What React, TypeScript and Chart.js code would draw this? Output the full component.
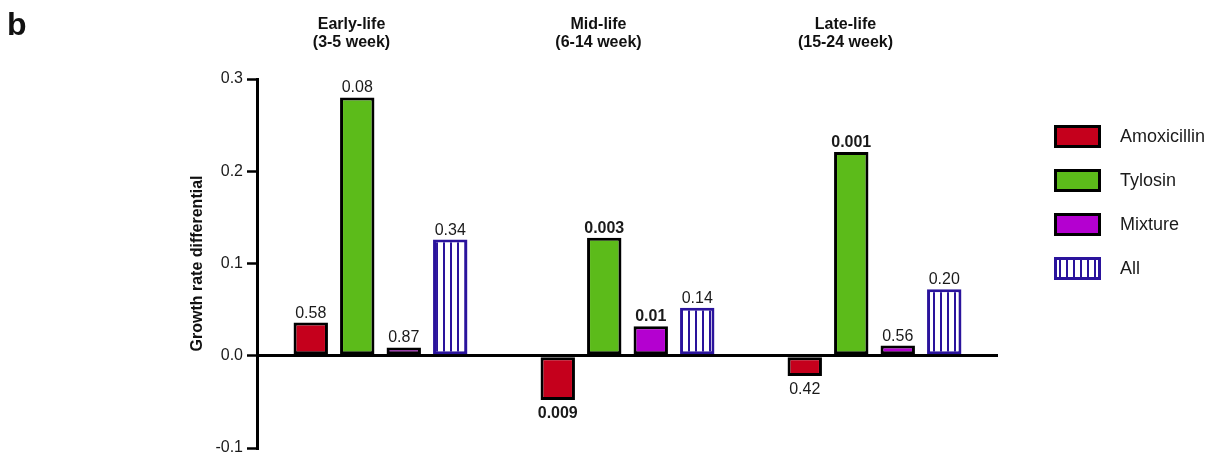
import React, { useEffect, useRef } from 'react';
import { Chart, registerables } from 'chart.js';

Chart.register(...registerables);

// ---- data ----
const categories = ['Early-life', 'Mid-life', 'Late-life'];
const categorySubtitles = ['(3-5 week)', '(6-14 week)', '(15-24 week)'];
const seriesNames = ['Amoxicillin', 'Tylosin', 'Mixture', 'All'];
const amoxicillin = [0.036, -0.048, -0.022];
const tylosin = [0.28, 0.128, 0.221];
const mixture = [0.009, 0.032, 0.011];
const allAntibiotics = [0.126, 0.052, 0.072];
const amoxicillinP = ['0.58', '0.009', '0.42'];
const tylosinP = ['0.08', '0.003', '0.001'];
const mixtureP = ['0.87', '0.01', '0.56'];
const allP = ['0.34', '0.14', '0.20'];
const amoxicillinSig = [false, true, false];
const tylosinSig = [false, true, true];
const mixtureSig = [false, true, false];
const allSig = [false, false, false];
const yTicks = [-0.1, 0, 0.1, 0.2, 0.3];

const FONT = '"Liberation Sans", Arial, Helvetica, sans-serif';
const RED = '#c5001c';
const GREEN = '#5cbb1a';
const PURPLE = '#b400d0';
const BLUE = '#2a139c';

function makeStripePattern(): CanvasPattern | string {
  const c = document.createElement('canvas');
  c.width = 7;
  c.height = 8;
  const g = c.getContext('2d');
  if (!g) return '#fff';
  g.fillStyle = '#ffffff';
  g.fillRect(0, 0, 7, 8);
  g.fillStyle = BLUE;
  g.fillRect(2, 0, 2, 8);
  const p = g.createPattern(c, 'repeat');
  return p || '#fff';
}

const annotationPlugin = {
  id: 'annotations',
  afterDatasetsDraw(chart: any) {
    const ctx: CanvasRenderingContext2D = chart.ctx;
    const area = chart.chartArea;
    ctx.save();
    // p-value labels
    chart.data.datasets.forEach((ds: any, di: number) => {
      const meta = chart.getDatasetMeta(di);
      meta.data.forEach((el: any, i: number) => {
        const v = ds.data[i];
        const txt = ds.pLabels[i];
        ctx.font = (ds.pSig[i] ? 'bold ' : '') + '16px ' + FONT;
        ctx.fillStyle = '#1a1a1a';
        ctx.textAlign = 'center';
        ctx.textBaseline = 'alphabetic';
        if (v >= 0) {
          ctx.fillText(txt, el.x, el.y - 5);
        } else {
          ctx.fillText(txt, el.x, el.y + 18);
        }
      });
    });
    // group titles
    const xs = chart.scales.x;
    categories.forEach((c, i) => {
      const cx = xs.getPixelForValue(i) - 29;
      ctx.font = 'bold 16px ' + FONT;
      ctx.fillStyle = '#111';
      ctx.textAlign = 'center';
      ctx.textBaseline = 'alphabetic';
      ctx.fillText(c, cx, 28.5);
      ctx.fillText(categorySubtitles[i], cx, 47);
    });
    // panel letter
    ctx.font = 'bold 32px ' + FONT;
    ctx.textAlign = 'left';
    ctx.fillStyle = '#111';
    ctx.fillText('b', 7, 35);
    // legend
    const lx = area.right + 56;
    const ly = area.top + 46;
    chart.data.datasets.forEach((ds: any, di: number) => {
      const top = ly + di * 44;
      ctx.fillStyle = ds.borderColor;
      ctx.fillRect(lx, top, 47, 23);
      ctx.fillStyle = ds.backgroundColor;
      ctx.fillRect(lx + 3, top + 3, 41, 17);
      ctx.font = '18px ' + FONT;
      ctx.fillStyle = '#1a1a1a';
      ctx.textAlign = 'left';
      ctx.textBaseline = 'middle';
      ctx.fillText(ds.label, lx + 66, top + 12);
    });
    ctx.restore();
  },
};

export default function App() {
  const ref = useRef<HTMLCanvasElement>(null);
  useEffect(() => {
    const canvas = ref.current;
    if (!canvas) return;
    const stripe = makeStripePattern();
    const common = {
      borderWidth: 3,
      borderSkipped: false,
      categoryPercentage: 0.753,
      barPercentage: 0.74,
    };
    const chart = new Chart(canvas, {
      type: 'bar',
      data: {
        labels: categories,
        datasets: [
          { label: seriesNames[0], data: amoxicillin, backgroundColor: RED, borderColor: '#000', pLabels: amoxicillinP, pSig: amoxicillinSig, ...common } as any,
          { label: seriesNames[1], data: tylosin, backgroundColor: GREEN, borderColor: '#000', pLabels: tylosinP, pSig: tylosinSig, ...common } as any,
          { label: seriesNames[2], data: mixture, backgroundColor: PURPLE, borderColor: '#000', pLabels: mixtureP, pSig: mixtureSig, ...common } as any,
          { label: seriesNames[3], data: allAntibiotics, backgroundColor: stripe, borderColor: BLUE, pLabels: allP, pSig: allSig, ...common } as any,
        ],
      },
      options: {
        responsive: false,
        animation: false,
        devicePixelRatio: 1,
        layout: { padding: { top: 79, bottom: 10, left: 0, right: 219 } },
        plugins: {
          legend: { display: false },
          tooltip: { enabled: false },
        },
        scales: {
          x: { display: false, offset: true },
          y: {
            min: -0.1,
            max: 0.3,
            afterBuildTicks: (s: any) => {
              s.ticks = yTicks.map((v) => ({ value: v }));
            },
            afterFit: (s: any) => {
              s.width = 257;
              s.paddingTop = 0;
              s.paddingBottom = 0;
            },
            ticks: {
              callback: (v: any) => Number(v).toFixed(1),
              font: { family: FONT, size: 16 },
              color: '#1a1a1a',
              padding: 4,
            },
            grid: {
              drawOnChartArea: true,
              color: (c: any) => (c.tick && c.tick.value === 0 ? '#000' : 'rgba(0,0,0,0)'),
              lineWidth: 3,
              tickLength: 10,
              tickColor: '#000',
              tickWidth: 2.5,
            },
            border: { display: true, color: '#000', width: 3 },
            title: {
              display: true,
              text: 'Growth rate differential',
              font: { family: FONT, size: 16, weight: 'bold' },
              color: '#111',
              padding: { top: 188, bottom: 0 },
            },
          },
        },
      } as any,
      plugins: [annotationPlugin],
    });
    return () => chart.destroy();
  }, []);
  return (
    <div style={{ position: 'fixed', left: 0, top: 0, width: 1217, height: 458, background: '#fff' }}>
      <canvas ref={ref} width={1217} height={458} style={{ display: 'block' }} />
    </div>
  );
}
